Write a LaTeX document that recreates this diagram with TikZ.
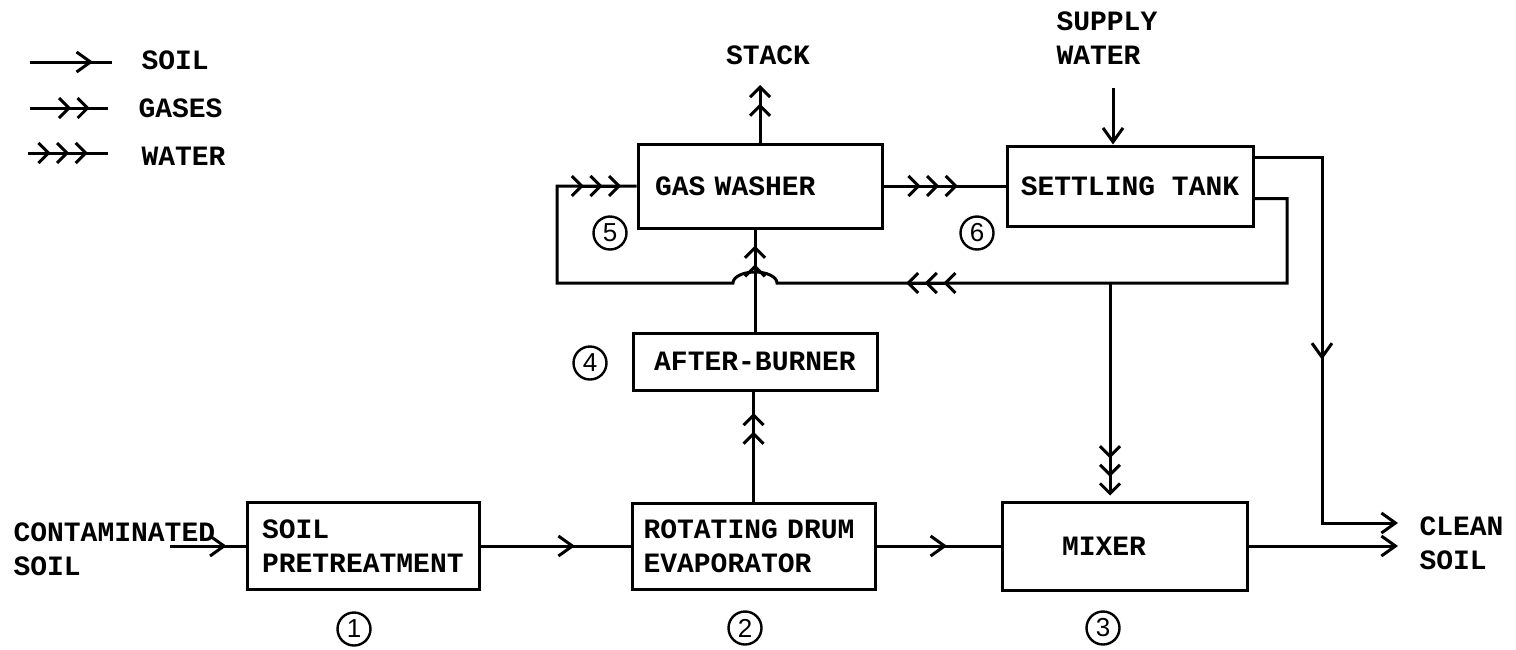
\documentclass[tikz,border=0pt]{standalone}
\usepackage{fontspec}
\setmainfont{Liberation Mono}[WordSpace={1,0,0}]
\newfontfamily\numfont{Liberation Sans}
\usetikzlibrary{arrows.meta,decorations.markings,calc}
\newcommand\lblfont{\fontsize{14pt}{17pt}\selectfont\bfseries\spaceskip=8.4pt\relax\xspaceskip=8.4pt\relax}
\tikzset{
  soiltip/.style={-{Straight Barb[length=7pt,width=10pt]}},
  gastip/.style={-{Straight Barb[length=5pt,width=10pt,sep=2.5pt] Straight Barb[length=5pt,width=10pt,sep=2.5pt]}},
  watertip/.style={-{Straight Barb[length=5pt,width=10pt,sep=2.5pt] Straight Barb[length=5pt,width=10pt,sep=2.5pt] Straight Barb[length=5pt,width=10pt,sep=2.5pt]}},
  soilmid/.style={postaction={decorate},decoration={markings,mark=at position #1 with {\draw[soiltip] (-20pt,0) -- (0,0);}}},
  gasmid/.style={postaction={decorate},decoration={markings,mark=at position #1 with {\draw[gastip] (-20pt,0) -- (0,0);}}},
  watermid/.style={postaction={decorate},decoration={markings,mark=at position #1 with {\draw[watertip] (-24pt,0) -- (0,0);}}},
  box/.style={draw, line width=1.5pt, inner sep=0pt, font=\lblfont},
  lbl/.style={inner sep=0pt, font=\lblfont, align=left},
  num/.style={draw, circle, line width=1.2pt, minimum size=16.5pt, inner sep=0pt, font=\numfont\fontsize{13pt}{13pt}\selectfont},
}
\begin{document}
\begin{tikzpicture}[x=0.5pt,y=-0.5pt,line width=1.5pt]
\useasboundingbox (0,0) rectangle (1516,649);

% legend
\coordinate (l1a) at (30,62);  \coordinate (l1b) at (112,62);
\coordinate (l2a) at (30,108); \coordinate (l2b) at (108,108);
\coordinate (l3a) at (28,153); \coordinate (l3b) at (108,153);
\draw[soilmid=0.77] (l1a) -- (l1b);
\draw[gasmid=0.83] (l2a) -- (l2b);
\draw[watermid=0.81] (l3a) -- (l3b);
\node[lbl, anchor=west] (t1) at (140,60) {SOIL};
\node[lbl, anchor=west] (t2) at (137,108) {GASES};
\node[lbl, anchor=west] (t3) at (140,156) {WATER};

% boxes
\node[box, minimum width=116pt, minimum height=43.5pt, text width=101pt, align=left] (pre) at (363,546) {SOIL\\PRETREATMENT};
\node[box, minimum width=121.5pt, minimum height=43pt, text width=110pt, align=left] (evap) at (753.5,546) {ROTATING DRUM\\EVAPORATOR};
\node[box, minimum width=122.5pt, minimum height=44pt, text width=62.5pt, align=left] (mixer) at (1124.5,546) {MIXER};
\node[box, minimum width=122pt, minimum height=28.5pt] (ab) at (755,361.5) {AFTER-BURNER};
\node[box, minimum width=122pt, minimum height=42pt, text width=105pt, align=left] (gw) at (760,186) {GAS WASHER};
\node[box, minimum width=123pt, minimum height=40pt] (st) at (1130,186) {SETTLING TANK};

% labels
\node[lbl, anchor=west] (cont) at (12,549) {CONTAMINATED\\SOIL};
\node[lbl, anchor=west] (clean) at (1418,543) {CLEAN\\SOIL};
\node[lbl] (stack) at (768,55) {STACK};
\node[lbl, anchor=north west] (supply) at (1055,10) {SUPPLY\\WATER};

% circled numbers
\node[num] (n1) at (354,629) {1};
\node[num] (n2) at (745,628) {2};
\node[num] (n3) at (1103,628) {3};
\node[num] (n4) at (590,363) {4};
\node[num] (n5) at (610,233) {5};
\node[num] (n6) at (977,233) {6};

% soil line
\coordinate (cin) at (170,546);
\coordinate (cout) at (1398,546);
\draw[soilmid=0.75] (cin) -- (pre);
\draw[soilmid=0.63] (pre) -- (evap);
\draw[soilmid=0.57] (evap) -- (mixer);
\draw[soiltip] (mixer) -- (cout);

% gases
\coordinate (stk) at (760,80);
\draw[gasmid=0.85] (evap.north) -- (evap.north |- ab.south);
\draw[gasmid=0.89] (ab.north) -- (ab.north |- gw.south);
\draw[gastip] (gw) -- (stk);

% water
\draw[watermid=0.65] (gw) -- (st);
\coordinate (supin) at (1113,88);
\draw[soiltip] (supin) -- (supin |- st.north);

% settling tank sludge to clean soil
\coordinate (o1) at ($(st.north east)+(0,13)$);
\coordinate (k2) at (1322,523);
\coordinate (cout2) at (1398,523);
\draw[soilmid=0.53,soiltip] (o1) -| (k2) -- (cout2);

% recycle water
\coordinate (o2) at ($(st.south east)+(0,-29)$);
\coordinate (r1) at (1287,283);
\coordinate (jr) at (777,283);
\coordinate (r2) at (557,283);
\coordinate (jn) at (1110,283);
\draw[postaction={decorate},decoration={markings,
   mark=at position 0.487 with {\draw[watertip] (-24pt,0) -- (0,0);},
   mark=at position 0.99 with {\draw[watertip] (-24pt,0) -- (0,0);}}]
  (o2) -| (r1) -- (jr) arc[start angle=0,end angle=180,x radius=11pt,y radius=5.5pt] -- (r2) |- (gw.west);
\draw[watertip] (jn) -- (jn |- mixer.north);
\end{tikzpicture}
\end{document}
